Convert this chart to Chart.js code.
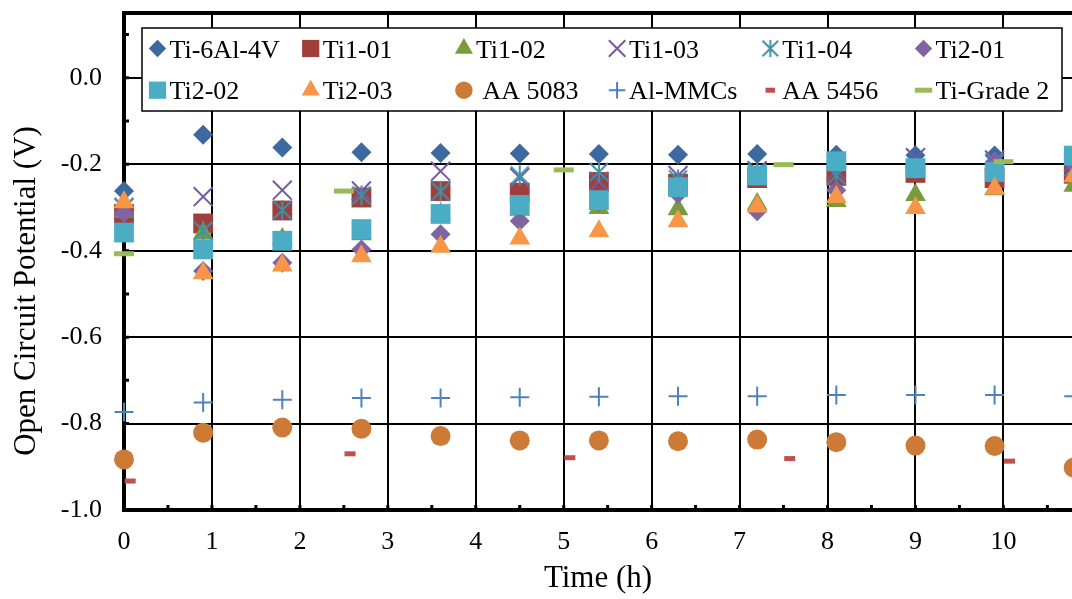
<!DOCTYPE html>
<html>
<head>
<meta charset="utf-8">
<script src="https://cdn.jsdelivr.net/npm/chart.js@4.4.1/dist/chart.umd.min.js"></script>
<style>
  html, body { margin: 0; padding: 0; background: #fff; overflow: hidden; }
  canvas { display: block; }
</style>
</head>
<body>
<canvas id="ocp-chart" width="1072" height="599"></canvas>
<script>
// sampling times (h)
var timeTi = [0, 0.9, 1.8, 2.7, 3.6, 4.5, 5.4, 6.3, 7.2, 8.1, 9.0, 9.9, 10.8];
var timeGrade2 = [0, 2.5, 5, 7.5, 10];
var time5456 = [0.07, 2.57, 5.07, 7.57, 10.07];

// open circuit potential (V)
var ti64 = [-0.262, -0.132, -0.161, -0.172, -0.174, -0.175, -0.176, -0.178, -0.176, -0.178, -0.179, -0.180, -0.180];
var ti101 = [-0.315, -0.337, -0.307, -0.277, -0.262, -0.266, -0.241, -0.245, -0.232, -0.227, -0.220, -0.232, -0.222];
var ti102 = [-0.310, -0.360, -0.373, -0.362, -0.315, -0.305, -0.301, -0.304, -0.292, -0.285, -0.271, -0.258, -0.250];
var ti103 = [-0.300, -0.275, -0.260, -0.262, -0.216, -0.231, -0.240, -0.226, -0.215, -0.215, -0.185, -0.190, -0.195];
var ti104 = [-0.300, -0.354, -0.306, -0.272, -0.263, -0.226, -0.218, -0.235, -0.220, -0.226, -0.210, -0.195, -0.207];
var ti201 = [-0.312, -0.447, -0.428, -0.397, -0.362, -0.331, -0.287, -0.269, -0.309, -0.260, -0.210, -0.195, -0.200];
var ti202 = [-0.358, -0.397, -0.377, -0.350, -0.315, -0.294, -0.283, -0.253, -0.226, -0.193, -0.209, -0.218, -0.180];
var ti203 = [-0.288, -0.452, -0.434, -0.413, -0.391, -0.372, -0.355, -0.332, -0.298, -0.276, -0.301, -0.256, -0.228];
var aa5083 = [-0.883, -0.821, -0.809, -0.812, -0.829, -0.839, -0.839, -0.841, -0.837, -0.843, -0.851, -0.852, -0.902];
var alMMC = [-0.773, -0.751, -0.745, -0.741, -0.741, -0.739, -0.738, -0.737, -0.737, -0.734, -0.734, -0.734, -0.737];
var aa5456 = [-0.933, -0.870, -0.879, -0.881, -0.887];
var grade2 = [-0.407, -0.262, -0.213, -0.201, -0.194];

var xTicks = [0, 1, 2, 3, 4, 5, 6, 7, 8, 9, 10];
var yTicks = [-1.0, -0.8, -0.6, -0.4, -0.2, 0.0];
var yTitleText = 'Open Circuit Potential (V)';

var serif = '"Liberation Serif", "Times New Roman", serif';
Chart.defaults.font.family = serif;
Chart.defaults.color = '#000';

// excel style star marker (x with a vertical bar)
function asterisk(color, size) {
  var c = document.createElement('canvas');
  c.width = c.height = size;
  var g = c.getContext('2d'), m = size / 2, d = size * 0.41;
  g.strokeStyle = color;
  g.lineWidth = 2;
  g.beginPath();
  g.moveTo(m - d, m - d); g.lineTo(m + d, m + d);
  g.moveTo(m + d, m - d); g.lineTo(m - d, m + d);
  g.moveTo(m, 1); g.lineTo(m, size - 1);
  g.stroke();
  return c;
}

function series(label, xs, ys, style, color, radius, width) {
  return {
    label: label,
    data: xs.map(function(x, i) { return {x: x, y: ys[i]}; }),
    pointStyle: style,
    pointRadius: radius,
    pointBackgroundColor: color,
    pointBorderColor: color,
    pointBorderWidth: width,
    backgroundColor: color,
    borderColor: color,
    borderWidth: width,
    showLine: false,
    clip: false
  };
}

var datasets = [
  series('Ti-6Al-4V', timeTi, ti64, 'rectRot', '#3D69A1', 10, 0),
  series('Ti1-01', timeTi, ti101, 'rect', '#9F3E3B', 14, 0),
  series('Ti1-02', timeTi, ti102, 'triangle', '#7A9B3D', 12, 0),
  series('Ti1-03', timeTi, ti103, 'crossRot', '#76599F', 13.4, 2),
  series('Ti1-04', timeTi, ti104, asterisk('#3A93AA', 22), '#3A93AA', 10, 2),
  series('Ti2-01', timeTi, ti201, 'rectRot', '#8064A2', 10, 0),
  series('Ti2-02', timeTi, ti202, 'rect', '#4BACC6', 14, 0),
  series('Ti2-03', timeTi, ti203, 'triangle', '#F79646', 12, 0),
  series(' AA 5083', timeTi, aa5083, 'circle', '#CC7A35', 10, 0),
  series('Al-MMCs', timeTi, alMMC, 'cross', '#4F81BD', 9.5, 2),
  series('AA 5456', time5456, aa5456, 'line', '#C0504D', 5.5, 5),
  series('Ti-Grade 2', timeGrade2, grade2, 'line', '#9BBB59', 10, 5)
];
// later series are painted over earlier ones
datasets.forEach(function(d, i) { d.order = datasets.length - i; });
datasets[4].legendStyle = asterisk('#3A93AA', 19);

var frame = {
  id: 'frame',
  beforeDatasetsDraw: function(chart) {
    var a = chart.chartArea, ctx = chart.ctx;
    var xs = chart.scales.x, ys = chart.scales.y;
    ctx.save();
    ctx.strokeStyle = '#000';
    ctx.lineWidth = 3;
    ctx.beginPath();
    for (var i = 1; i * 0.5 < xs.max; i++) {
      var px = xs.getPixelForValue(i * 0.5);
      ctx.moveTo(px, a.bottom);
      ctx.lineTo(px, a.bottom - 5);
    }
    for (var j = -9; j * 0.1 < ys.max; j++) {
      var py = ys.getPixelForValue(j * 0.1);
      ctx.moveTo(a.left, py);
      ctx.lineTo(a.left + 5, py);
    }
    ctx.stroke();
    ctx.lineWidth = 4;
    ctx.beginPath();
    ctx.moveTo(a.right + 2, a.top);
    ctx.lineTo(a.left, a.top);
    ctx.lineTo(a.left, a.bottom);
    ctx.lineTo(a.right + 2, a.bottom);
    ctx.stroke();
    ctx.restore();
  }
};

var legendBox = {
  id: 'legendBox',
  afterDatasetsDraw: function(chart) {
    var ctx = chart.ctx;
    ctx.save();
    ctx.fillStyle = '#fff';
    ctx.strokeStyle = '#000';
    ctx.lineWidth = 1.5;
    ctx.fillRect(142, 28, 920, 83);
    ctx.strokeRect(142, 28, 920, 83);
    ctx.font = '26px ' + serif;
    ctx.textBaseline = 'alphabetic';
    chart.data.datasets.forEach(function(ds, i) {
      var x = 157.5 + (i % 6) * 153.2;
      var y = 48.5 + Math.floor(i / 6) * 41.7;
      ctx.fillStyle = ds.backgroundColor;
      ctx.strokeStyle = ds.borderColor;
      ctx.lineWidth = ds.borderWidth;
      Chart.helpers.drawPoint(ctx, {
        pointStyle: ds.legendStyle || ds.pointStyle,
        radius: ds.pointRadius * 0.87,
        borderWidth: ds.borderWidth,
        rotation: 0
      }, x, y);
      ctx.fillStyle = '#000';
      ctx.fillText(ds.label, x + 12, y + 9);
    });
    ctx.restore();
  }
};

// y title sits a little below the middle of the plot, as in the source figure
var yTitle = {
  id: 'yTitle',
  afterDraw: function(chart) {
    var ctx = chart.ctx;
    ctx.save();
    ctx.translate(27, 291);
    ctx.rotate(-Math.PI / 2);
    ctx.font = '31px ' + serif;
    ctx.textAlign = 'center';
    ctx.textBaseline = 'middle';
    ctx.fillStyle = '#000';
    ctx.fillText(yTitleText, 0, 0);
    ctx.restore();
  }
};

new Chart(document.getElementById('ocp-chart'), {
  type: 'scatter',
  data: { datasets: datasets },
  plugins: [frame, legendBox, yTitle],
  options: {
    responsive: false,
    animation: false,
    events: [],
    layout: { autoPadding: false, padding: { left: 0, top: 13, right: 0, bottom: 0 } },
    plugins: {
      legend: { display: false },
      tooltip: { enabled: false }
    },
    scales: {
      x: {
        type: 'linear',
        min: 0,
        max: 10.78,
        afterBuildTicks: function(s) { s.ticks = xTicks.map(function(v) { return {value: v}; }); },
        afterFit: function(s) { s.height = 89; s.paddingLeft = 0; s.paddingRight = 0; },
        grid: { color: '#000', lineWidth: 2, drawTicks: false },
        border: { display: false },
        ticks: {
          padding: 17,
          font: { size: 26 },
          maxRotation: 0,
          callback: function(v) { return String(v); }
        },
        title: {
          display: true,
          text: 'Time (h)',
          font: { size: 31 },
          padding: { top: 0, bottom: 2 }
        }
      },
      y: {
        type: 'linear',
        min: -1.0,
        max: 0.15,
        afterBuildTicks: function(s) { s.ticks = yTicks.map(function(v) { return {value: v}; }); },
        afterFit: function(s) { s.width = 124; s.paddingTop = 0; s.paddingBottom = 0; },
        grid: { color: '#000', lineWidth: 2, drawTicks: false },
        border: { display: false },
        ticks: {
          padding: 22,
          font: { size: 26 },
          callback: function(v) { return v.toFixed(1); }
        },
        title: { display: false }
      }
    }
  }
});
</script>
</body>
</html>
